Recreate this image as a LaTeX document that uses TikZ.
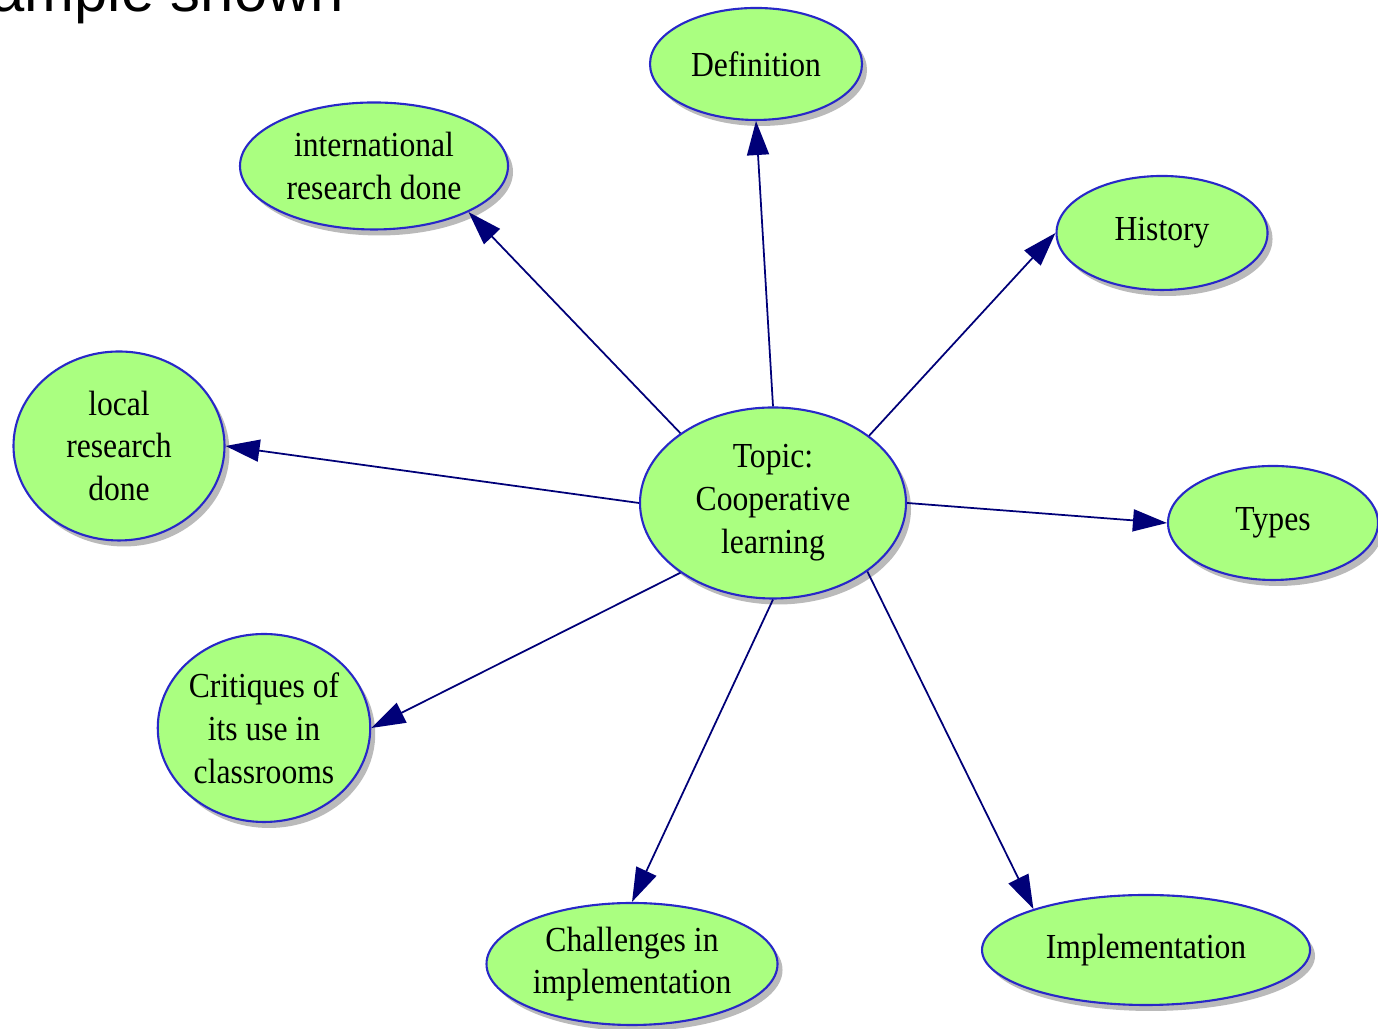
\documentclass[tikz,border=0pt]{standalone}
\usepackage{fontspec}
\setmainfont{Liberation Serif}[FakeStretch=0.9]
\newfontfamily\headfont{Liberation Sans}
\usepackage{tikz}
\usetikzlibrary{shapes.geometric, arrows.meta, positioning, shadows}
\definecolor{bubblegreen}{RGB}{170,255,128}
\definecolor{rimblue}{RGB}{40,40,200}
\definecolor{linknavy}{RGB}{0,0,120}
\tikzstyle{bubble} = [ellipse, draw=rimblue, line width=0.6pt, fill=bubblegreen, inner sep=0pt, align=center, font=\fontsize{10}{12.2}\selectfont, drop shadow={shadow xshift=0.05cm, shadow yshift=-0.06cm, fill=black!45, opacity=0.6}]
\tikzstyle{arrow} = [draw=linknavy, line width=0.5pt, -{Triangle[length=0.34cm, width=0.22cm]}]

\begin{document}
\begin{tikzpicture}
    \useasboundingbox (0,0) rectangle (13.78,10.29);
    \clip (0,0) rectangle (13.78,10.29);
    % Heading, cut off by the page edge
    \node (head) at (-0.09,10.17) [anchor=base west, inner sep=0pt, font=\headfont\fontsize{17}{20}\selectfont] {ample shown};

    % Centre topic
    \node (topic) at (7.73,5.26) [bubble, minimum width=2.66cm, minimum height=1.91cm] {Topic:\\Cooperative\\learning};

    % Subtopics
    \node (defn) at (7.56,9.65) [bubble, minimum width=2.12cm, minimum height=1.12cm] {Definition};
    \node (intl) at (3.74,8.63) [bubble, minimum width=2.68cm, minimum height=1.27cm] {international\\research done};
    \node (hist) at (11.62,7.96) [bubble, minimum width=2.11cm, minimum height=1.14cm] {History};
    \node (local) at (1.19,5.83) [bubble, minimum width=2.11cm, minimum height=1.89cm] {local\\research\\done};
    \node (types) at (12.73,5.06) [bubble, minimum width=2.10cm, minimum height=1.14cm] {Types};
    \node (crit) at (2.64,3.01) [bubble, minimum width=2.12cm, minimum height=1.88cm] {Critiques of\\its use in\\classrooms};
    \node (chall) at (6.32,0.65) [bubble, minimum width=2.91cm, minimum height=1.22cm] {Challenges in\\implementation};
    \node (impl) at (11.46,0.79) [bubble, minimum width=3.28cm, minimum height=1.10cm] {Implementation};

    % Arrows
    \draw [arrow] (topic.north) -- (defn.south);
    \draw [arrow] (topic.143) -- (intl.-26);
    \draw [arrow] (topic.35) -- (hist.west);
    \draw [arrow] (topic.west) -- (local.east);
    \draw [arrow] (topic.east) -- (types.west);
    \draw [arrow] (topic.217) -- (crit.east);
    \draw [arrow] (topic.south) -- (chall.north);
    \draw [arrow] (topic.-36) -- (impl.160);
\end{tikzpicture}
\end{document}
